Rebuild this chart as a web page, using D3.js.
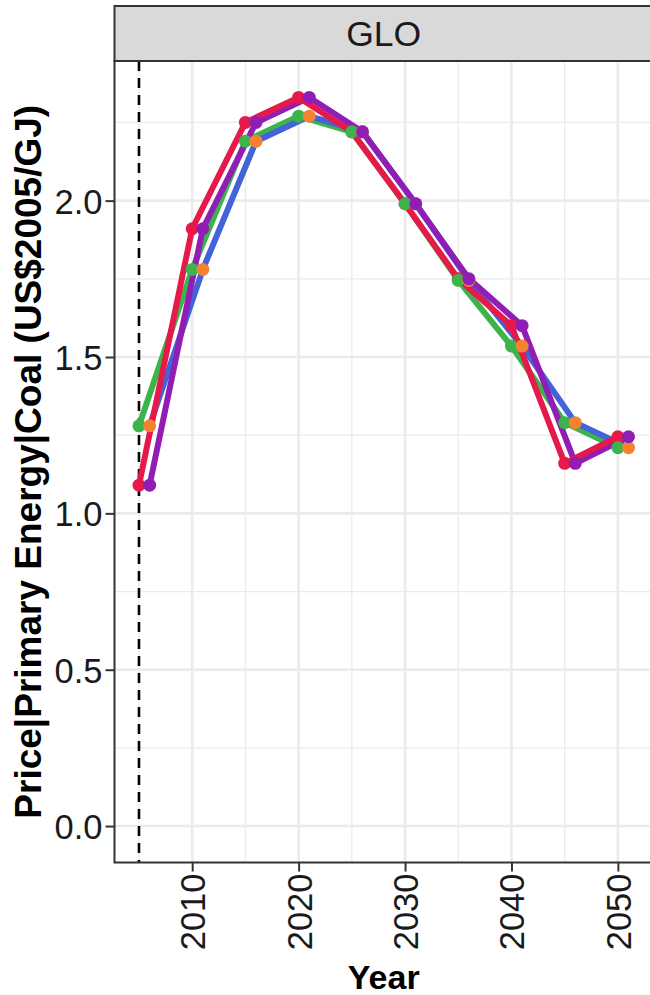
<!DOCTYPE html>
<html>
<head>
<meta charset="utf-8">
<script src="https://cdn.jsdelivr.net/npm/d3@7"></script>
<style>
  html, body { margin: 0; padding: 0; background: #ffffff; }
  svg { display: block; font-family: "Liberation Sans", Arial, sans-serif; }
</style>
</head>
<body>
<svg id="chart" width="650" height="995"></svg>
<script>
// ---- data ----
const years = [2005, 2010, 2015, 2020, 2025, 2030, 2035, 2040, 2045, 2050];
const seriesA = [1.28, 1.78, 2.19, 2.27, 2.22, 1.99, 1.745, 1.535, 1.29, 1.21];
const seriesB = [1.09, 1.91, 2.25, 2.33, 2.22, 1.99, 1.75, 1.60, 1.16, 1.245];
const yTicks = [0.0, 0.5, 1.0, 1.5, 2.0];
const yMinor = [0.25, 0.75, 1.25, 1.75, 2.25];
const xTicks = [2010, 2020, 2030, 2040, 2050];
const xMinor = [2005, 2015, 2025, 2035, 2045, 2055];
const refYear = 2005;
const facetLabel = "GLO";
const yTitle = "Price|Primary Energy|Coal (US$2005/GJ)";
const xTitle = "Year";

// layers: which series, dodge (years), line colour, point colour
const layers = [
  { name: "A",  values: seriesA, dodge: 0, line: "#3cb44b", point: "#3cb44b" },
  { name: "A2", values: seriesA, dodge: 1, line: "#4363d8", point: "#f58231" },
  { name: "B",  values: seriesB, dodge: 0, line: "#e6194b", point: "#e6194b" },
  { name: "B2", values: seriesB, dodge: 1, line: "#911eb4", point: "#911eb4" }
];
const lineOrder = ["A", "A2", "B2", "B"];
const pointOrder = ["B", "A", "A2", "B2"];

// ---- layout ----
const svg = d3.select("#chart");
const panel = { left: 114.5, right: 653, top: 61, bottom: 862.5 };
const strip = { top: 6, bottom: 61 };

const x = d3.scaleLinear().domain([2002.7, 2053.3]).range([panel.left, panel.right]);
const y = d3.scaleLinear().domain([-0.1165, 2.4465]).range([panel.bottom, panel.top]);

const clipId = "panelClip";
svg.append("defs").append("clipPath").attr("id", clipId)
  .append("rect").attr("x", panel.left).attr("y", panel.top)
  .attr("width", panel.right - panel.left).attr("height", panel.bottom - panel.top);

const g = svg.append("g");
const plot = g.append("g").attr("clip-path", `url(#${clipId})`);

// grid
const gridCol = "#ebebeb";
plot.selectAll(".ymin").data(yMinor).join("line")
  .attr("x1", panel.left).attr("x2", panel.right)
  .attr("y1", d => y(d)).attr("y2", d => y(d))
  .attr("stroke", gridCol).attr("stroke-width", 1.3);
plot.selectAll(".xmin").data(xMinor).join("line")
  .attr("y1", panel.top).attr("y2", panel.bottom)
  .attr("x1", d => x(d)).attr("x2", d => x(d))
  .attr("stroke", gridCol).attr("stroke-width", 1.3);
plot.selectAll(".ymaj").data(yTicks).join("line")
  .attr("x1", panel.left).attr("x2", panel.right)
  .attr("y1", d => y(d)).attr("y2", d => y(d))
  .attr("stroke", gridCol).attr("stroke-width", 2.6);
plot.selectAll(".xmaj").data(xTicks).join("line")
  .attr("y1", panel.top).attr("y2", panel.bottom)
  .attr("x1", d => x(d)).attr("x2", d => x(d))
  .attr("stroke", gridCol).attr("stroke-width", 2.6);

// reference dashed line
plot.append("line")
  .attr("x1", x(refYear)).attr("x2", x(refYear))
  .attr("y1", panel.top).attr("y2", panel.bottom)
  .attr("stroke", "#000").attr("stroke-width", 2.6)
  .attr("stroke-dasharray", "10,7");

const layerMap = Object.fromEntries(layers.map(l => [l.name, l]));
const lineGen = d3.line().x(d => x(d.year)).y(d => y(d.value));
function pts(l) { return years.map((yr, i) => ({ year: yr + l.dodge, value: l.values[i] })); }

lineOrder.forEach(k => {
  const l = layerMap[k];
  plot.append("path").datum(pts(l))
    .attr("d", lineGen)
    .attr("fill", "none").attr("stroke", l.line)
    .attr("stroke-width", 6).attr("stroke-linejoin", "round").attr("stroke-linecap", "butt");
});
pointOrder.forEach(k => {
  const l = layerMap[k];
  plot.append("g").selectAll("circle").data(pts(l)).join("circle")
    .attr("cx", d => x(d.year)).attr("cy", d => y(d.value)).attr("r", 6.5)
    .attr("fill", l.point);
});

// panel border
g.append("rect")
  .attr("x", panel.left).attr("y", panel.top)
  .attr("width", panel.right - panel.left).attr("height", panel.bottom - panel.top)
  .attr("fill", "none").attr("stroke", "#333333").attr("stroke-width", 2);

// strip
g.append("rect")
  .attr("x", panel.left).attr("y", strip.top)
  .attr("width", panel.right - panel.left).attr("height", strip.bottom - strip.top)
  .attr("fill", "#d9d9d9").attr("stroke", "#333333").attr("stroke-width", 2);
g.append("text")
  .attr("x", (panel.left + panel.right) / 2).attr("y", (strip.top + strip.bottom) / 2 + 12.5)
  .attr("text-anchor", "middle").attr("font-size", 35.5).attr("fill", "#1a1a1a")
  .text(facetLabel);

// y axis
const yAxis = d3.axisLeft(y).tickValues(yTicks).tickFormat(d3.format(".1f")).tickSize(9).tickPadding(3);
const ya = g.append("g").attr("transform", `translate(${panel.left},0)`).call(yAxis);
ya.select(".domain").remove();
ya.selectAll(".tick line").attr("stroke", "#333333").attr("stroke-width", 2);
ya.selectAll(".tick text").attr("font-size", 34.5).attr("fill", "#1a1a1a")
  .attr("font-family", "Liberation Sans, Arial, sans-serif").attr("dy", "0.36em");

// x axis
const xAxis = d3.axisBottom(x).tickValues(xTicks).tickFormat(d3.format("d")).tickSize(9);
const xa = g.append("g").attr("transform", `translate(0,${panel.bottom})`).call(xAxis);
xa.select(".domain").remove();
xa.selectAll(".tick line").attr("stroke", "#333333").attr("stroke-width", 2);
xa.selectAll(".tick text")
  .attr("font-size", 34.5).attr("fill", "#1a1a1a")
  .attr("font-family", "Liberation Sans, Arial, sans-serif")
  .attr("text-anchor", "end")
  .attr("dy", null).attr("y", null)
  .attr("transform", "translate(12.5,11) rotate(-90)");

// titles
g.append("text")
  .attr("transform", `translate(41,${(panel.top + panel.bottom) / 2}) rotate(-90)`)
  .attr("text-anchor", "middle").attr("font-size", 37).attr("font-weight", "bold")
  .attr("fill", "#000").text(yTitle);
g.append("text")
  .attr("x", (panel.left + panel.right) / 2).attr("y", 989)
  .attr("text-anchor", "middle").attr("font-size", 34).attr("font-weight", "bold")
  .attr("fill", "#000").text(xTitle);
</script>
</body>
</html>
